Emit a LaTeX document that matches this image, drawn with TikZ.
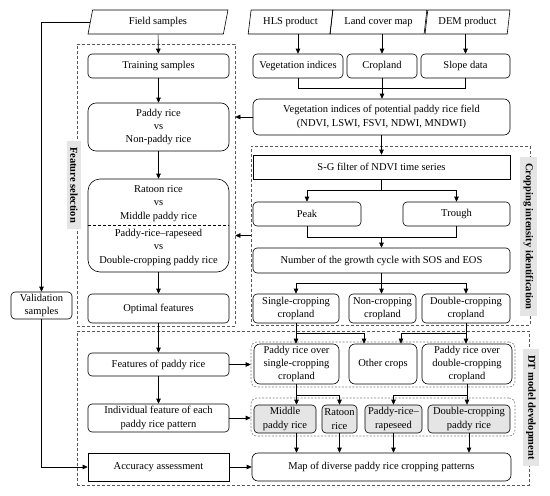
\documentclass[tikz,border=0pt]{standalone}
\usepackage{fontspec}
\setmainfont{Liberation Serif}
\usetikzlibrary{arrows.meta,shapes.geometric}

\begin{document}
\begin{tikzpicture}[x=1pt,y=-1pt,
        font=\fontsize{10.5}{13.3}\selectfont,
        line width=0.6pt,
        >={Triangle[length=5pt,width=4.5pt]},
        box/.style={draw,rounded corners=4pt,align=center,inner sep=0pt},
        sqbox/.style={draw,align=center,inner sep=0pt},
        data/.style={draw,trapezium,trapezium left angle=78,trapezium right angle=102,
                trapezium stretches=true,inner sep=0pt,minimum height=24pt},
        frame/.style={draw=gray!70!black,dash pattern=on 3pt off 2pt,inner sep=0pt},
        group/.style={draw=gray,dash pattern=on 2pt off 1.5pt,rounded corners=6pt,inner sep=0pt},
        pattern/.style={box,fill=gray!20},
        tag/.style={fill=gray!20,font=\fontsize{10.5}{12}\selectfont\bfseries,rotate=-90,
                inner xsep=6pt,inner ysep=3.5pt}]
        
        \useasboundingbox (0,0) rectangle (550,496);
        
        % dashed frames
        \node[frame,minimum width=158pt,minimum height=282pt] (fsbox) at (156,185) {};
        \node[frame,minimum width=279pt,minimum height=179pt] (cibox) at (390.5,235.5) {};
        \node[frame,minimum width=452pt,minimum height=154pt] (dtbox) at (303,408) {};
        
        % left column
        \node[data,minimum width=140pt] (field) at (158,22) {Field samples};
        \node[box,minimum width=141pt,minimum height=24pt] (train) at (158.5,66) {Training samples};
        \node[box,rounded corners=8pt,minimum width=141pt,minimum height=48pt] (paddy) at (158.5,127)
                {Paddy rice\\vs\\Non-paddy rice};
        \node[box,rounded corners=12pt,minimum width=141pt,minimum height=93pt] (ratoon) at (158.5,225.5)
                {Ratoon rice\\vs\\Middle paddy rice\\[4pt]Paddy-rice–rapeseed\\vs\\Double-cropping paddy rice};
        \node[box,minimum width=141pt,minimum height=29pt] (optim) at (158.5,308.5) {Optimal features};
        \node[box,minimum width=61pt,minimum height=27pt] (valid) at (41.5,305.5) {Validation\\samples};
        \node[box,minimum width=141pt,minimum height=23pt] (feat) at (158.5,364.5) {Features of paddy rice};
        \node[box,minimum width=141pt,minimum height=28pt] (indiv) at (158.5,418)
                {Individual feature of each\\paddy rice pattern};
        \node[sqbox,minimum width=141pt,minimum height=28pt] (acc) at (158.5,467) {Accuracy assessment};
        
        \draw[densely dashed] (ratoon.west) -- (ratoon.east);
        
        % input data
        \node[data,minimum width=85pt] (hls) at (290.5,22) {HLS product};
        \node[data,minimum width=97pt] (lcm) at (378.5,22) {Land cover map};
        \node[data,minimum width=85pt] (dem) at (467.5,22) {DEM product};
        \node[box,minimum width=90pt,minimum height=24pt] (vi) at (298,66) {Vegetation indices};
        \node[box,minimum width=70pt,minimum height=24pt] (crop) at (382,66) {Cropland};
        \node[box,minimum width=89pt,minimum height=24pt] (slope) at (465.5,66) {Slope data};
        \node[box,rounded corners=6pt,minimum width=257pt,minimum height=36pt] (vip) at (381.5,117)
                {Vegetation indices of potential paddy rice field\\(NDVI, LSWI, FSVI, NDWI, MNDWI)};
        
        % cropping intensity
        \node[sqbox,minimum width=257pt,minimum height=24pt] (sg) at (381.5,167) {S-G filter of NDVI time series};
        \node[box,minimum width=108pt,minimum height=24pt] (peak) at (307,214) {Peak};
        \node[box,minimum width=107pt,minimum height=24pt] (trough) at (456.5,214) {Trough};
        \node[box,minimum width=257pt,minimum height=25pt] (cycle) at (381.5,260.5)
                {Number of the growth cycle with SOS and EOS};
        \node[box,minimum width=86pt,minimum height=29pt] (single) at (296,308.5) {Single-cropping\\cropland};
        \node[box,minimum width=67pt,minimum height=29pt] (non) at (382.5,308.5) {Non-cropping\\cropland};
        \node[box,minimum width=88pt,minimum height=29pt] (double) at (466,308.5) {Double-cropping\\cropland};
        
        % DT model
        \node[group,minimum width=264pt,minimum height=45pt] (grpA) at (383,364.5) {};
        \node[box,rounded corners=6pt,minimum width=85pt,minimum height=40pt] (psingle) at (296.5,364)
                {Paddy rice over\\single-cropping\\cropland};
        \node[box,rounded corners=6pt,minimum width=68pt,minimum height=40pt] (other) at (383,364) {Other crops};
        \node[box,rounded corners=6pt,minimum width=90pt,minimum height=40pt] (pdouble) at (467,364)
                {Paddy rice over\\double-cropping\\cropland};
        \node[group,minimum width=264pt,minimum height=38pt] (grpB) at (383,417) {};
        \node[pattern,minimum width=62pt,minimum height=28pt] (middle) at (285,419) {Middle\\paddy rice};
        \node[pattern,minimum width=35pt,minimum height=28pt] (ratoonr) at (339.5,419) {Ratoon\\rice};
        \node[pattern,minimum width=57pt,minimum height=28pt] (rape) at (393.5,419) {Paddy-rice–\\rapeseed};
        \node[pattern,minimum width=82pt,minimum height=28pt] (dcp) at (469,419) {Double-cropping\\paddy rice};
        \node[box,rounded corners=6pt,minimum width=259pt,minimum height=28pt] (map) at (381.5,467)
                {Map of diverse paddy rice cropping patterns};
        
        % labels
        \node[tag] (fstag) at (74,185) {Feature selection};
        \node[tag] (citag) at (528.5,236.5) {Cropping intensity identification};
        \node[tag] (dttag) at (531,407.5) {DT model development};
        
        % left connectors
        \draw[->] (field) -- (train);
        \draw[->] (train) -- (paddy);
        \draw[->] (paddy) -- (ratoon);
        \draw[->] (ratoon) -- (optim);
        \draw[->] (optim) -- (feat);
        \draw[->] (feat) -- (indiv);
        \draw[->] (field.west) -| (valid.north);
        \draw[->] (valid.south) |- (acc.west);
        \draw[->] (feat.east) -- (grpA.west |- feat.east);
        \draw[->] (indiv.east) -- (grpB.west |- indiv.east);
        \draw[->] (acc) -- (map);
        
        % top right connectors
        \draw[->] (hls.south -| vi.north) -- (vi.north);
        \draw[->] (lcm.south -| crop.north) -- (crop.north);
        \draw[->] (dem.south -| slope.north) -- (slope.north);
        \draw (vi.south) -- ++(0,10) -| (slope.south);
        \draw[->] (crop.south) -- (crop.south |- vip.north);
        \draw[->] (vip.west) -- (fsbox.east |- vip.west);
        \draw[->] (cibox.west) -- (fsbox.east |- cibox.west);
        \draw[->] (vip) -- (sg);
        \draw[->] (sg.south) -- ++(0,11) -| (peak.north);
        \draw[->] (sg.south) ++(0,11) -| (trough.north);
        \draw (peak.south) -- ++(0,11) coordinate (pt) -| (trough.south);
        \draw[->] (pt -| cycle.north) -- (cycle.north);
        \draw[->] (cycle.south) -- ++(0,10) -| (single.north);
        \draw[->] (cycle.south) ++(0,10) -| (double.north);
        \draw[->] (cycle.south) -- (cycle.south |- non.north);
        
        % DT connectors
        \draw[->] (single.south) -- (single.south |- psingle.north);
        \draw[->] (single.south) ++(0,10) -| ([xshift=-19pt]other.north);
        \draw[->] (double.south) -- (double.south |- pdouble.north);
        \draw[->] (double.south) ++(0,10) -| ([xshift=18pt]other.north);
        \draw[->] (psingle.south) -- (psingle.south |- middle.north);
        \draw[->] (psingle.south) ++(0,11) -| (ratoonr.north);
        \draw[->] (pdouble.south) -- (pdouble.south |- dcp.north);
        \draw[->] (pdouble.south) ++(0,11) -| (rape.north);
        \draw[->] (psingle.south |- middle.south) -- (psingle.south |- map.north);
        \draw[->] (ratoonr.south) -- (ratoonr.south |- map.north);
        \draw[->] (rape.south) -- (rape.south |- map.north);
        \draw[->] (dcp.south) -- (dcp.south |- map.north);
        
\end{tikzpicture}
\end{document}
